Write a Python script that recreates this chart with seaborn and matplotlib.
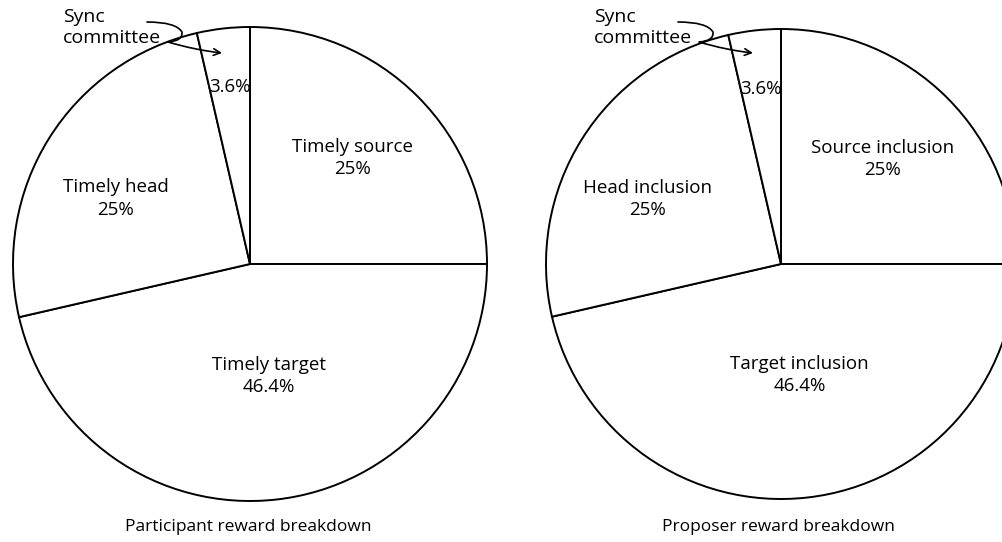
import matplotlib
matplotlib.use("Agg")
import matplotlib.pyplot as plt
import seaborn as sns
import numpy as np
from matplotlib.path import Path
from matplotlib.patches import FancyArrowPatch

# ---- data ----
shares = [25, 46.4, 25, 3.6]
share_text = ["25%", "46.4%", "25%", "3.6%"]
left_labels = ["Timely source", "Timely target", "Timely head", ""]
right_labels = ["Source inclusion", "Target inclusion", "Head inclusion", ""]
titles = ["Participant reward breakdown", "Proposer reward breakdown"]
callout = "Sync\ncommittee"

# ---- style ----
sns.set_theme(style="white")
plt.rcParams['font.family'] = ['Open Sans', 'DejaVu Sans']
plt.rcParams['text.color'] = 'black'

W, H = 1003, 542
fig = plt.figure(figsize=(W / 100, H / 100), dpi=100)
fig.patch.set_facecolor("white")
ax = fig.add_axes([0, 0, 1, 1])

pies = [dict(cx=250, cy=264, r=237, tx=248, dx=0, labels=left_labels),
        dict(cx=781, cy=264, r=235, tx=778, dx=531, labels=right_labels)]
label_frac = [0.62, 0.48, 0.63, 0.75]
label_dangle = [1, 3, 6, 0]

for i, p in enumerate(pies):
    wedges, _ = ax.pie(shares, startangle=90, counterclock=False,
                       center=(p["cx"], H - p["cy"]), radius=p["r"],
                       wedgeprops=dict(facecolor="white", edgecolor="black",
                                       linewidth=1.4))
    for j, w in enumerate(wedges):
        mid = np.deg2rad((w.theta1 + w.theta2) / 2 + label_dangle[j])
        x = p["cx"] + label_frac[j] * p["r"] * np.cos(mid)
        y = (H - p["cy"]) + label_frac[j] * p["r"] * np.sin(mid)
        name = p["labels"][j]
        txt = f"{name}\n{share_text[j]}" if name else share_text[j]
        ax.text(x, y, txt, ha="center", va="center", fontsize=13.5,
                multialignment="center", linespacing=1.3, color="black")
    ax.text(p["tx"], H - 527, titles[i], ha="center", va="center",
            fontsize=12.5, color="black")
    # callout
    dx = p["dx"]
    ax.text(63 + dx, H - 8, callout, ha="left", va="top", fontsize=14,
            linespacing=1.2, color="black")
    verts = [(147 + dx, H - 22), (176 + dx, H - 22), (182 + dx, H - 32),
             (183 + dx, H - 41), (168 + dx, H - 42),
             (195 + dx, H - 50), (222 + dx, H - 53)]
    codes = [Path.MOVETO, Path.CURVE3, Path.CURVE3, Path.CURVE3, Path.CURVE3,
             Path.CURVE3, Path.CURVE3]
    arr = FancyArrowPatch(path=Path(verts, codes), arrowstyle="->",
                          mutation_scale=12, lw=1.2, color="black")
    ax.add_patch(arr)

ax.set_xlim(0, W)
ax.set_ylim(0, H)
ax.set_aspect("equal")
ax.axis("off")

fig.savefig("out.png", dpi=100, facecolor="white")
